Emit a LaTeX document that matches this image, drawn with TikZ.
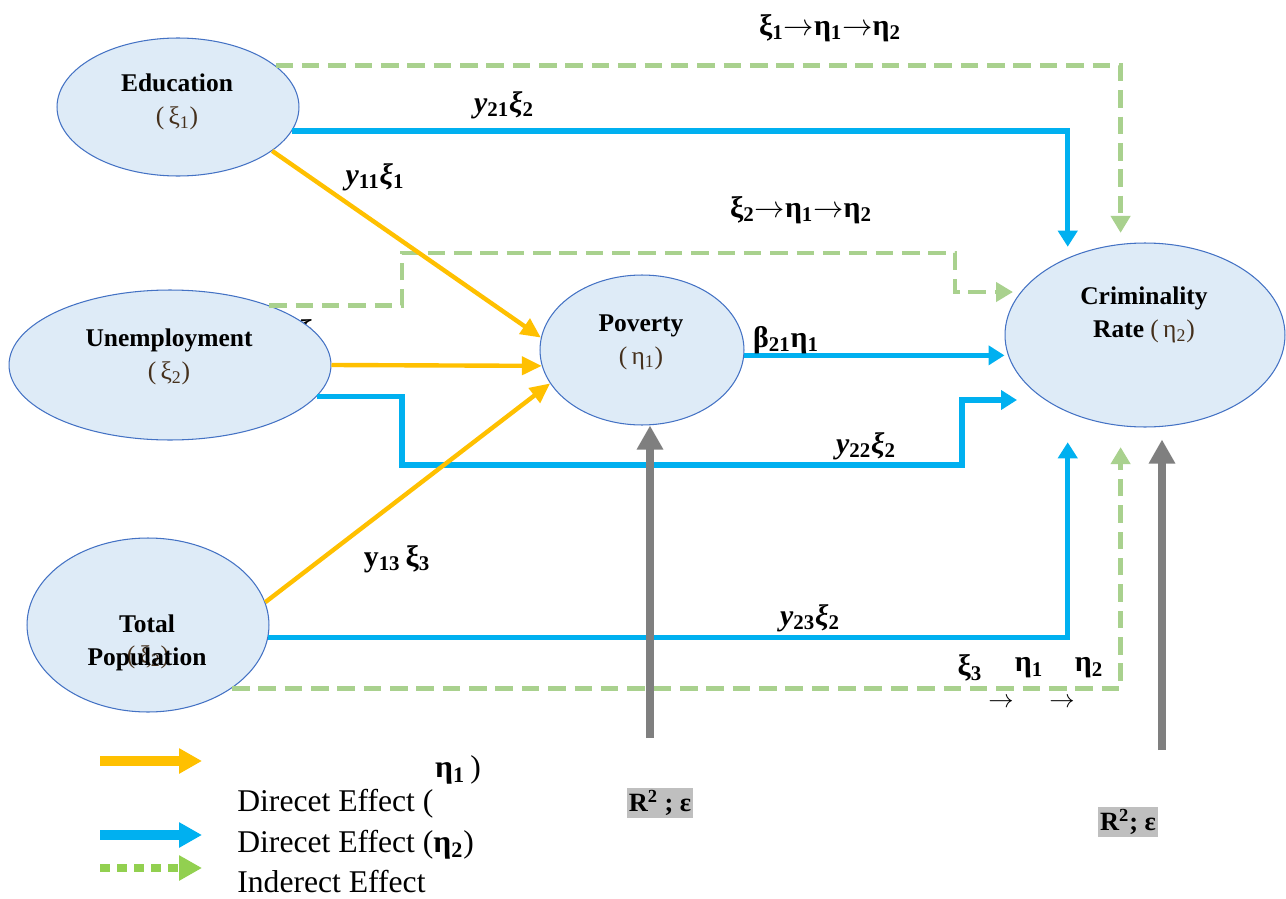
\documentclass[tikz,border=0pt]{standalone}
\usepackage{fontspec}
\setmainfont{Liberation Serif}
\usetikzlibrary{shapes.geometric, positioning, arrows.meta}

\definecolor{ellfill}{HTML}{DEEBF7}
\definecolor{elldraw}{HTML}{4472C4}
\definecolor{dirone}{HTML}{FFC000}
\definecolor{dirtwo}{HTML}{00B0F0}
\definecolor{indir}{HTML}{A9D18E}
\definecolor{indirleg}{HTML}{92D050}
\definecolor{resid}{HTML}{7F7F7F}
\definecolor{resbox}{HTML}{BFBFBF}
\definecolor{symb}{HTML}{45301C}

\begin{document}
\begin{tikzpicture}[x=0.02cm, y=-0.02cm,
	latent/.style={ellipse, draw=elldraw, fill=ellfill, line width=0.6pt, inner sep=0pt},
	vname/.style={font=\fontsize{14.5}{18.7}\selectfont\bfseries, align=center, inner sep=0pt},
	coef/.style={font=\fontsize{17}{19}\selectfont\bfseries, inner sep=0pt},
	errbox/.style={font=\fontsize{15}{17}\selectfont\bfseries, fill=resbox, inner sep=1.2pt},
	legtext/.style={font=\fontsize{18}{20}\selectfont, inner sep=0pt, anchor=west},
	toeta/.style={draw=dirone, line width=2.5pt, -{Triangle[length=0.4cm, width=0.36cm]}},
	direct/.style={draw=dirtwo, line width=3.1pt, -{Triangle[length=0.32cm, width=0.38cm]}},
	indirect/.style={draw=indir, line width=2.8pt, dash pattern=on 10pt off 5pt, -{Triangle[length=0.34cm, width=0.38cm]}},
	errarr/.style={draw=resid, line width=4.5pt, -{Triangle[length=0.48cm, width=0.5cm]}},
	legarr/.style={line width=5.5pt, -{Triangle[length=0.46cm, width=0.48cm]}}]
	\useasboundingbox (0,0) rectangle (1286,899);

	\node[coef] (xicut) at (306,333) {ξ};

	\node[latent, minimum width=4.84cm, minimum height=2.76cm] (edu) at (178,107) {};
	\node[latent, minimum width=6.44cm, minimum height=3cm] (unemp) at (170,365) {};
	\node[latent, minimum width=4.84cm, minimum height=3.48cm] (total) at (148,625) {};
	\node[latent, minimum width=4.08cm, minimum height=3cm] (pov) at (642,350) {};
	\node[latent, minimum width=5.6cm, minimum height=3.68cm] (crime) at (1145,335) {};

	\node[vname] (edut) at (177,102) {Education\\\mdseries\color{symb}(\,ξ\textsubscript{1})};
	\node[vname] (unempt) at (169,357) {Unemployment\\\mdseries\color{symb}(\,ξ\textsubscript{2})};
	\node[vname, text=symb, font=\fontsize{14.5}{18.7}\selectfont] (totals) at (148,657) {(\,ξ\textsubscript{2})};
	\node[vname] (totalt) at (147,643) {Total\\Population};
	\node[vname] (povt) at (641,342) {Poverty\\\mdseries\color{symb}(\,η\textsubscript{1})};
	\node[vname] (crimet) at (1144,315) {Criminality\\Rate {\mdseries\color{symb}(\,η\textsubscript{2})}};

	\coordinate (gtip) at (1013,292);
	\coordinate (btip) at (1017,400);
	\coordinate (err1) at (650,738);
	\coordinate (err2) at (1162,750);

	\draw[indirect, shorten >=0.22cm] (edu.23) -| (crime.105);
	\draw[indirect] (unemp.31) -| (402,253) -| (955,292) -- (gtip);
	\draw[indirect, shorten >=0.42cm] (total.-37) -| (crime.255);

	\draw[direct, shorten >=0.22cm] (edu.-12) -| (crime.135);
	\draw[direct] (pov.-3) -- (pov.-3 -| crime.west);
	\draw[direct] (unemp.-12) -| (402,465) -| (962,400) -- (btip);
	\draw[direct, shorten >=0.6cm] (total.-6) -| (crime.225);

	\draw[toeta] (edu.-25) -- (pov.173);
	\draw[toeta] (unemp.east) -- (pov.189);
	\draw[toeta] (total.11) -- (pov.200);

	\draw[errarr] (err1) -- (err1 |- pov.south);
	\draw[errarr, shorten >=0.24cm] (err2) -- (err2 |- crime.south);

	\node[coef] (p1) at (830,28) {ξ\textsubscript{1}$\rightarrow$η\textsubscript{1}$\rightarrow$η\textsubscript{2}};
	\node[coef] (y21) at (504,105) {\textit{y}\textsubscript{21}\textit{ξ}\textsubscript{2}};
	\node[coef] (y11) at (375,177) {\textit{y}\textsubscript{11}\textit{ξ}\textsubscript{1}};
	\node[coef] (p2) at (801,210) {ξ\textsubscript{2}$\rightarrow$η\textsubscript{1}$\rightarrow$η\textsubscript{2}};
	\node[coef] (b21) at (786,340) {β\textsubscript{21}η\textsubscript{1}};
	\node[coef] (y22) at (866,446) {\textit{y}\textsubscript{22}\textit{ξ}\textsubscript{2}};
	\node[coef] (y13) at (397,559) {y\textsubscript{13}\,ξ\textsubscript{3}};
	\node[coef] (y23) at (810,618) {\textit{y}\textsubscript{23}\textit{ξ}\textsubscript{2}};
	\node[coef] (p3a) at (970,668) {ξ\textsubscript{3}};
	\node[coef] (p3b) at (1029,668) {η\textsubscript{1}};
	\node[coef] (p3c) at (1089,668) {η\textsubscript{2}};
	\node[coef, font=\fontsize{14}{16}\selectfont] (p3d) at (1001,703) {$\rightarrow$};
	\node[coef, font=\fontsize{14}{16}\selectfont] (p3e) at (1062,703) {$\rightarrow$};

	\node[errbox] (e1) at (660,803) {R\textsuperscript{2} ; ε};
	\node[errbox] (e2) at (1128,822) {R\textsuperscript{2}; ε};

	\coordinate (lo1) at (100,761);
	\coordinate (lo2) at (202,761);
	\coordinate (lb1) at (100,835);
	\coordinate (lb2) at (202,835);
	\coordinate (lg1) at (100,868);
	\coordinate (lg2) at (202,868);
	\draw[legarr, draw=dirone] (lo1) -- (lo2);
	\draw[legarr, draw=dirtwo] (lb1) -- (lb2);
	\draw[legarr, draw=indirleg, line width=4.5pt, dash pattern=on 5.7pt off 4pt] (lg1) -- (lg2);

	\node[legtext, anchor=center] (leta) at (458,770) {\textbf{η\textsubscript{1}}\,)};
	\node[legtext] (ldir1) at (237,804) {Direcet Effect (};
	\node[legtext] (ldir2) at (237,845) {Direcet Effect (\textbf{η\textsubscript{2}})};
	\node[legtext] (lind) at (237,882) {Inderect Effect};
\end{tikzpicture}
\end{document}
